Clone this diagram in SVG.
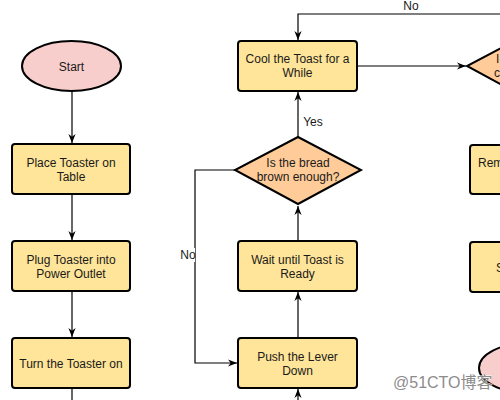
<svg xmlns="http://www.w3.org/2000/svg" width="500" height="400" viewBox="0 0 500 400">
<style>
.box{fill:#FFE599;stroke:#000;stroke-width:2}
.dia{fill:#FFCC99;stroke:#000;stroke-width:2}
.ell{fill:#F8CECC;stroke:#000;stroke-width:2}
.t{font-family:"Liberation Sans",Arial,sans-serif;font-size:12px;fill:#1a1a1a;text-anchor:middle}
.ts{font-family:"Liberation Sans",Arial,sans-serif;font-size:12px;fill:#1a1a1a}
.c{fill:none;stroke:#000;stroke-width:1.2}
.wm{font-family:"Liberation Sans","Noto Sans CJK SC",sans-serif;font-size:16px;fill:#8c8c8c;stroke:#fff;stroke-width:0.6;paint-order:stroke}
</style>
<defs>
<marker id="arr" viewBox="0 0 10 10" refX="10" refY="5" markerWidth="9" markerHeight="9" orient="auto" markerUnits="userSpaceOnUse">
<path d="M0,1 L10,5 L0,9 L3,5 z" fill="#000"/>
</marker>
</defs>
<rect width="500" height="400" fill="#fff"/>
<g id="connectors">
<line class="c" x1="72" y1="91" x2="72" y2="143" marker-end="url(#arr)"/>
<line class="c" x1="72" y1="194" x2="72" y2="240" marker-end="url(#arr)"/>
<line class="c" x1="72" y1="291" x2="72" y2="337" marker-end="url(#arr)"/>
<line class="c" x1="72" y1="388" x2="72" y2="400"/>
<line class="c" x1="298" y1="400" x2="298" y2="389" marker-end="url(#arr)"/>
<line class="c" x1="298" y1="338" x2="298" y2="292" marker-end="url(#arr)"/>
<line class="c" x1="298" y1="241" x2="298" y2="206" marker-end="url(#arr)"/>
<line class="c" x1="298" y1="137" x2="298" y2="92" marker-end="url(#arr)"/>
<polyline class="c" points="235,170 195,170 195,363 237,363" marker-end="url(#arr)"/>
<line class="c" x1="357" y1="66" x2="466" y2="66" marker-end="url(#arr)"/>
<polyline class="c" points="502,14 298,14 298,40" marker-end="url(#arr)"/>
<text class="t" x="313" y="126">Yes</text>
<rect x="179" y="248" width="16" height="14" fill="#fff"/>
<text class="t" x="188" y="259">No</text>
<text class="t" x="411" y="10">No</text>
</g>
<g id="start">
<ellipse class="ell" cx="71.5" cy="66" rx="49.5" ry="25"/>
<text class="t" x="71.5" y="71">Start</text>
</g>
<g id="place">
<rect class="box" x="12" y="144" width="118" height="50" rx="3"/>
<text class="t" x="71" y="167">Place Toaster on</text>
<text class="t" x="71" y="181">Table</text>
</g>
<g id="plug">
<rect class="box" x="12" y="241" width="118" height="50" rx="3"/>
<text class="t" x="71" y="264">Plug Toaster into</text>
<text class="t" x="71" y="278">Power Outlet</text>
</g>
<g id="turn">
<rect class="box" x="12" y="338" width="118" height="50" rx="3"/>
<text class="t" x="71" y="368">Turn the Toaster on</text>
</g>
<g id="cool">
<rect class="box" x="238" y="41" width="119" height="50" rx="3"/>
<text class="t" x="297.5" y="63">Cool the Toast for a</text>
<text class="t" x="297.5" y="77">While</text>
</g>
<g id="brown">
<polygon class="dia" points="298,137 361,170 298,204 235,170"/>
<text class="t" x="298" y="167">Is the bread</text>
<text class="t" x="298" y="181">brown enough?</text>
</g>
<g id="wait">
<rect class="box" x="238" y="241" width="119" height="50" rx="3"/>
<text class="t" x="297.5" y="264">Wait until Toast is</text>
<text class="t" x="297.5" y="278">Ready</text>
</g>
<g id="push">
<rect class="box" x="238" y="338" width="119" height="50" rx="3"/>
<text class="t" x="297.5" y="361">Push the Lever</text>
<text class="t" x="297.5" y="375">Down</text>
</g>
<g id="cooldecision">
<polygon class="dia" points="530,33 593,66 530,100 467,66"/>
<text class="ts" x="496" y="63">I</text>
<text class="ts" x="494" y="77">c</text>
</g>
<g id="remove">
<rect class="box" x="470" y="145" width="119" height="49" rx="3"/>
<text class="ts" x="478" y="167">Rem</text>
</g>
<g id="serve">
<rect class="box" x="470" y="242" width="119" height="50" rx="3"/>
<text class="ts" x="496" y="272">S</text>
</g>
<g id="end">
<ellipse class="ell" cx="528" cy="368" rx="49" ry="25"/>
</g>
<text class="wm" x="393" y="388">@51CTO博客</text>
</svg>
